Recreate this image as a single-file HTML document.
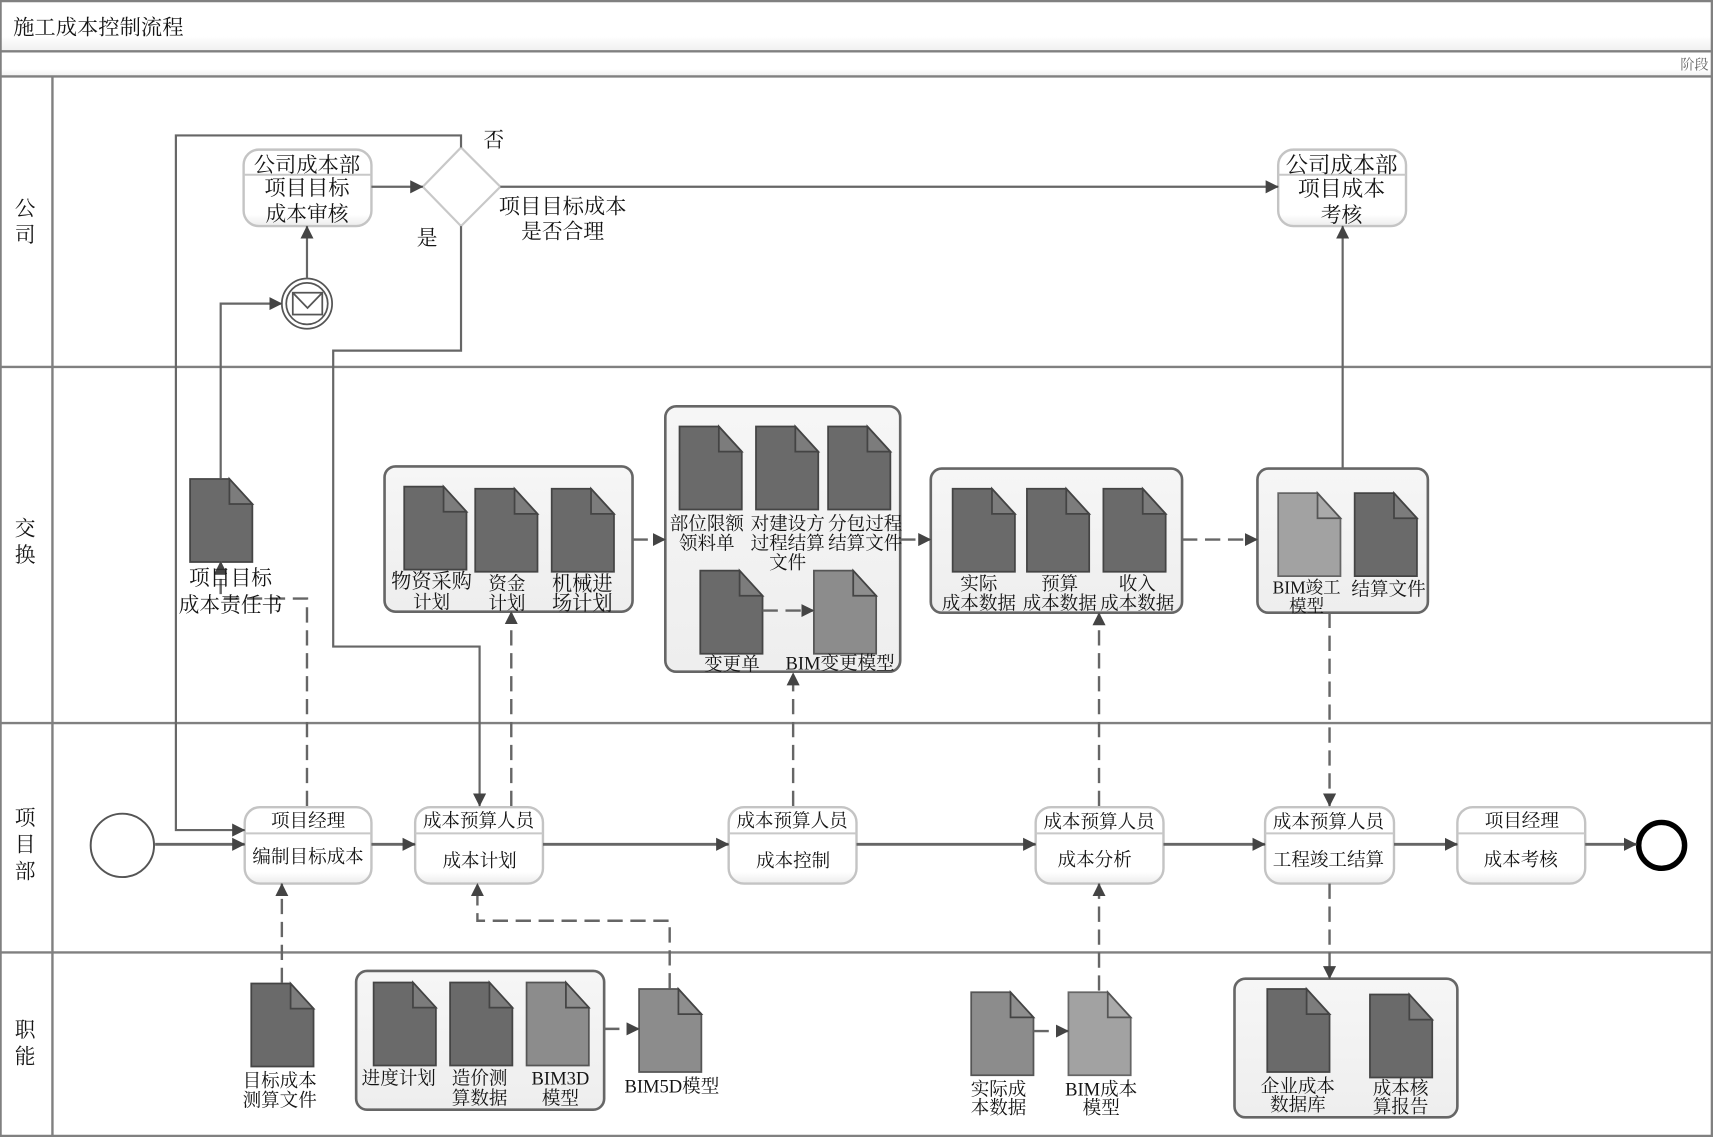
<!DOCTYPE html>
<html><head><meta charset="utf-8"><title>施工成本控制流程</title>
<style>
html,body{margin:0;padding:0;background:#fff;width:1713px;height:1137px;overflow:hidden}
svg{display:block}
text{font-family:"Liberation Serif","Noto Serif CJK SC",serif;fill:#151515;text-anchor:middle;dominant-baseline:central;transform:translate(0,4px)}
use{transform:translate(0,.5px)}
.s{font-size:17px}.m{font-size:19px}.h{font-size:17px}
.ln{fill:none;stroke:#666;stroke-width:2}
.th{fill:none;stroke:#666;stroke-width:2.6}
.da{fill:none;stroke:#666;stroke-width:2.2;stroke-dasharray:14 7}
.task{fill:url(#tg);stroke:#c4c4c4;stroke-width:2.2}
.sep{stroke:#c8c8c8;stroke-width:1.8}
.grp{fill:url(#gg);stroke:#666;stroke-width:2.4}
.lane{stroke:#808080;stroke-width:2.2;fill:none}
</style></head><body>
<svg xmlns="http://www.w3.org/2000/svg" width="1713" height="1137" viewBox="0 0 1568 1041" preserveAspectRatio="none">
<defs>
<linearGradient id="tg" x1="0" y1="0" x2="0" y2="1"><stop offset="0" stop-color="#fff"/><stop offset=".85" stop-color="#fff"/><stop offset="1" stop-color="#ececec"/></linearGradient>
<linearGradient id="gg" x1="0" y1="0" x2="0" y2="1"><stop offset="0" stop-color="#f6f6f6"/><stop offset="1" stop-color="#eeeeee"/></linearGradient>
<linearGradient id="band" x1="0" y1="0" x2="0" y2="1"><stop offset="0" stop-color="#fff"/><stop offset=".7" stop-color="#fff"/><stop offset="1" stop-color="#efefef"/></linearGradient>
<marker id="a" viewBox="0 0 12 12" refX="11.5" refY="6" markerWidth="12" markerHeight="12" markerUnits="userSpaceOnUse" orient="auto"><path d="M0 0L12 6L0 12z" fill="#444"/></marker>
<symbol id="dd" viewBox="0 0 57 76" width="57" height="76" overflow="visible"><path d="M0 0H36L57 23V76H0z" fill="#6a6a6a" stroke="#444" stroke-width="1.6"/><path d="M36 0L57 23H36z" fill="#7c7c7c" stroke="#444" stroke-width="1.6"/></symbol>
<symbol id="dm" viewBox="0 0 57 76" width="57" height="76" overflow="visible"><path d="M0 0H36L57 23V76H0z" fill="#8c8c8c" stroke="#555" stroke-width="1.6"/><path d="M36 0L57 23H36z" fill="#8e8e8e" stroke="#444" stroke-width="1.6"/></symbol>
<symbol id="dl" viewBox="0 0 57 76" width="57" height="76" overflow="visible"><path d="M0 0H36L57 23V76H0z" fill="#a2a2a2" stroke="#666" stroke-width="1.6"/><path d="M36 0L57 23H36z" fill="#aaa" stroke="#555" stroke-width="1.6"/></symbol>
</defs>

<rect width="1568" height="1041" fill="#fff"/>
<rect x="0" y="1" width="1568" height="46" fill="url(#band)"/>
<rect x="0" y="48" width="1568" height="22" fill="url(#band)"/>
<path class="lane" d="M0 1H1568M0 47H1568M0 70H1568M0 336H1568M0 662H1568M0 872H1568M0 1040H1568M48 70V1040M0.5 0V1041M1567 0V1041"/>
<text x="90" y="21" style="font-size:19.5px">施工成本控制流程</text>
<text x="1551" y="56" style="font-size:13px;fill:#666">阶段</text>
<g class="m">
<text x="23" y="188">公</text><text x="23" y="212">司</text>
<text x="23" y="481">交</text><text x="23" y="505">换</text>
<text x="23" y="746">项</text><text x="23" y="770">目</text><text x="23" y="795">部</text>
<text x="23" y="940">职</text><text x="23" y="964">能</text>
</g>

<!-- groups -->
<rect class="grp" x="352" y="427" width="227" height="133" rx="10"/>
<rect class="grp" x="609" y="372" width="215" height="243" rx="10"/>
<rect class="grp" x="852" y="429" width="230" height="132" rx="10"/>
<rect class="grp" x="1151" y="429" width="156" height="132" rx="10"/>
<rect class="grp" x="326" y="889" width="227" height="127" rx="10"/>
<rect class="grp" x="1130" y="896" width="204" height="127" rx="10"/>

<!-- documents -->
<use href="#dd" x="174" y="438"/>
<use href="#dd" x="370" y="445"/><use href="#dd" x="435" y="447"/><use href="#dd" x="505" y="447"/>
<use href="#dd" x="622" y="390"/><use href="#dd" x="692" y="390"/><use href="#dd" x="758" y="390"/>
<use href="#dd" x="641" y="522"/><use href="#dm" x="745" y="522"/>
<use href="#dd" x="872" y="447"/><use href="#dd" x="940" y="447"/><use href="#dd" x="1010" y="447"/>
<use href="#dl" x="1170" y="451"/><use href="#dd" x="1240" y="451"/>
<use href="#dd" x="230" y="900"/>
<use href="#dd" x="342" y="899"/><use href="#dd" x="412" y="899"/><use href="#dm" x="482" y="899"/>
<use href="#dm" x="585" y="905"/>
<use href="#dm" x="889" y="908"/><use href="#dl" x="978" y="908"/>
<use href="#dd" x="1160" y="905"/><use href="#dd" x="1254" y="910"/>

<!-- tasks -->
<g>
<rect class="task" x="223" y="137" width="117" height="70" rx="14"/><path class="sep" d="M223 160H340"/>
<rect class="task" x="1170" y="137" width="117" height="70" rx="14"/><path class="sep" d="M1170 160H1287"/>
<rect class="task" x="224" y="739" width="116" height="70" rx="14"/><path class="sep" d="M224 763H340"/>
<rect class="task" x="380" y="739" width="117" height="70" rx="14"/><path class="sep" d="M380 763H497"/>
<rect class="task" x="667" y="739" width="117" height="70" rx="14"/><path class="sep" d="M667 763H784"/>
<rect class="task" x="948" y="739" width="117" height="70" rx="14"/><path class="sep" d="M948 763H1065"/>
<rect class="task" x="1158" y="739" width="118" height="70" rx="14"/><path class="sep" d="M1158 763H1276"/>
<rect class="task" x="1334" y="739" width="117" height="70" rx="14"/><path class="sep" d="M1334 763H1451"/>
</g>

<!-- gateway and events -->
<path d="M387 171L422 135L458 171L422 207z" fill="#fff" stroke="#c8c8c8" stroke-width="2"/>
<circle cx="281" cy="278" r="23" fill="#fff" stroke="#555" stroke-width="1.6"/>
<circle cx="281" cy="278" r="19" fill="#fff" stroke="#555" stroke-width="1.6"/>
<rect x="268" y="268" width="27" height="20" fill="#fff" stroke="#555" stroke-width="1.6"/>
<path d="M268 268L281.500 282L295 268" fill="none" stroke="#555" stroke-width="1.6"/>
<circle cx="112" cy="774" r="29" fill="#fff" stroke="#555" stroke-width="1.8"/>
<circle cx="1521" cy="774" r="21" fill="#fff" stroke="#000" stroke-width="5"/>

<!-- solid connectors -->
<path class="ln" marker-end="url(#a)" d="M340 171H387"/>
<path class="ln" marker-end="url(#a)" d="M422 135V124H161V760H224"/>
<path class="ln" marker-end="url(#a)" d="M458 171H1170"/>
<path class="ln" marker-end="url(#a)" d="M422 207V321H305V592H439V738"/>
<path class="ln" marker-end="url(#a)" d="M281 255V207"/>
<path class="ln" marker-end="url(#a)" d="M202 438V278H258"/>
<path class="ln" marker-end="url(#a)" d="M1229 428V207"/>
<path class="th" marker-end="url(#a)" d="M142 773H224"/>
<path class="th" marker-end="url(#a)" d="M340 773H380"/>
<path class="th" marker-end="url(#a)" d="M497 773H667"/>
<path class="th" marker-end="url(#a)" d="M784 773H948"/>
<path class="th" marker-end="url(#a)" d="M1065 773H1158"/>
<path class="th" marker-end="url(#a)" d="M1276 773H1334"/>
<path class="th" marker-end="url(#a)" d="M1451 773H1498"/>

<!-- dashed connectors -->
<path class="da" marker-end="url(#a)" d="M281 738V548H202V514"/>
<path class="da" marker-end="url(#a)" d="M468 738V560"/>
<path class="da" marker-end="url(#a)" d="M726 738V616"/>
<path class="da" marker-end="url(#a)" d="M1006 738V561"/>
<path class="da" marker-end="url(#a)" d="M1217 561V738"/>
<path class="da" marker-end="url(#a)" d="M1217 809V896"/>
<path class="da" marker-end="url(#a)" d="M258 900V809"/>
<path class="da" marker-end="url(#a)" d="M613 905V843H437V809"/>
<path class="da" marker-end="url(#a)" d="M1006 907V809"/>
<path class="da" marker-end="url(#a)" d="M553 942H585"/>
<path class="da" marker-end="url(#a)" d="M946 944H978"/>
<path class="da" marker-end="url(#a)" d="M579 494H609"/>
<path class="da" marker-end="url(#a)" d="M824 494H852"/>
<path class="da" marker-end="url(#a)" d="M1082 494H1151"/>
<path class="da" marker-end="url(#a)" d="M698 559H745"/>

<g transform="translate(0,2)">
<!-- task text -->
<text class="m" x="281" y="145" style="font-size:19.5px">公司成本部</text>
<text class="m" x="281" y="166" style="font-size:19.500px">项目目标</text>
<text class="m" x="281" y="191">成本审核</text>
<text class="m" x="1228" y="145" style="font-size:20.500px">公司成本部</text>
<text class="m" x="1228" y="167" style="font-size:20px">项目成本</text>
<text class="m" x="1228" y="192">考核</text>
<text class="m" x="452" y="123">否</text>
<text class="m" x="391" y="213">是</text>
<text class="m" x="515" y="183" style="font-size:19.500px">项目目标成本</text>
<text class="m" x="515" y="207">是否合理</text>

<text class="h" x="282" y="746">项目经理</text><text class="h" x="282" y="779">编制目标成本</text>
<text class="h" x="438" y="746">成本预算人员</text><text class="h" x="439" y="783">成本计划</text>
<text class="h" x="725" y="746">成本预算人员</text><text class="h" x="726" y="783">成本控制</text>
<text class="h" x="1006" y="747">成本预算人员</text><text class="h" x="1002" y="782">成本分析</text>
<text class="h" x="1216" y="747">成本预算人员</text><text class="h" x="1216" y="782">工程竣工结算</text>
<text class="h" x="1393" y="746">项目经理</text><text class="h" x="1392" y="782">成本考核</text>

<!-- document labels -->
<text class="m" x="211" y="524">项目目标</text><text class="m" x="211" y="549">成本责任书</text>
<g class="s">
<text class="s" x="395" y="527" style="font-size:18.500px">物资采购</text><text class="s" x="395" y="546">计划</text>
<text class="s" x="464" y="529">资金</text><text class="s" x="464" y="547">计划</text>
<text class="s" x="533" y="529" style="font-size:18.500px">机械进</text><text class="s" x="533" y="547" style="font-size:18.500px">场计划</text>
<text class="s" x="647" y="474">部位限额</text><text class="s" x="647" y="492">领料单</text>
<text class="s" x="721" y="474">对建设方</text><text class="s" x="721" y="492">过程结算</text><text class="s" x="721" y="510">文件</text>
<text class="s" x="792" y="474">分包过程</text><text class="s" x="792" y="492">结算文件</text>
<text class="s" x="670" y="603">变更单</text><text class="s" x="769" y="602">BIM变更模型</text>
<text class="s" x="896" y="529">实际</text><text class="s" x="896" y="547">成本数据</text>
<text class="s" x="970" y="529">预算</text><text class="s" x="970" y="547">成本数据</text>
<text class="s" x="1041" y="529">收入</text><text class="s" x="1041" y="547">成本数据</text>
<text class="s" x="1196" y="532" style="font-size:16px">BIM竣工</text><text class="s" x="1196" y="549" style="font-size:16px">模型</text>
<text class="s" x="1271" y="534">结算文件</text>
<text class="s" x="256" y="984">目标成本</text><text class="s" x="256" y="1002">测算文件</text>
<text class="s" x="365" y="982">进度计划</text>
<text class="s" x="439" y="982">造价测</text><text class="s" x="439" y="1000">算数据</text>
<text class="s" x="513" y="982">BIM3D</text><text class="s" x="513" y="1000">模型</text>
<text class="s" x="615" y="989">BIM5D模型</text>
<text class="s" x="914" y="992">实际成</text><text class="s" x="914" y="1009">本数据</text>
<text class="s" x="1008" y="992">BIM成本</text><text class="s" x="1008" y="1009">模型</text>
<text class="s" x="1188" y="989">企业成本</text><text class="s" x="1188" y="1006">数据库</text>
<text class="s" x="1282" y="991">成本核</text><text class="s" x="1282" y="1008">算报告</text>
</g>
</g>
</svg>
</body></html>
